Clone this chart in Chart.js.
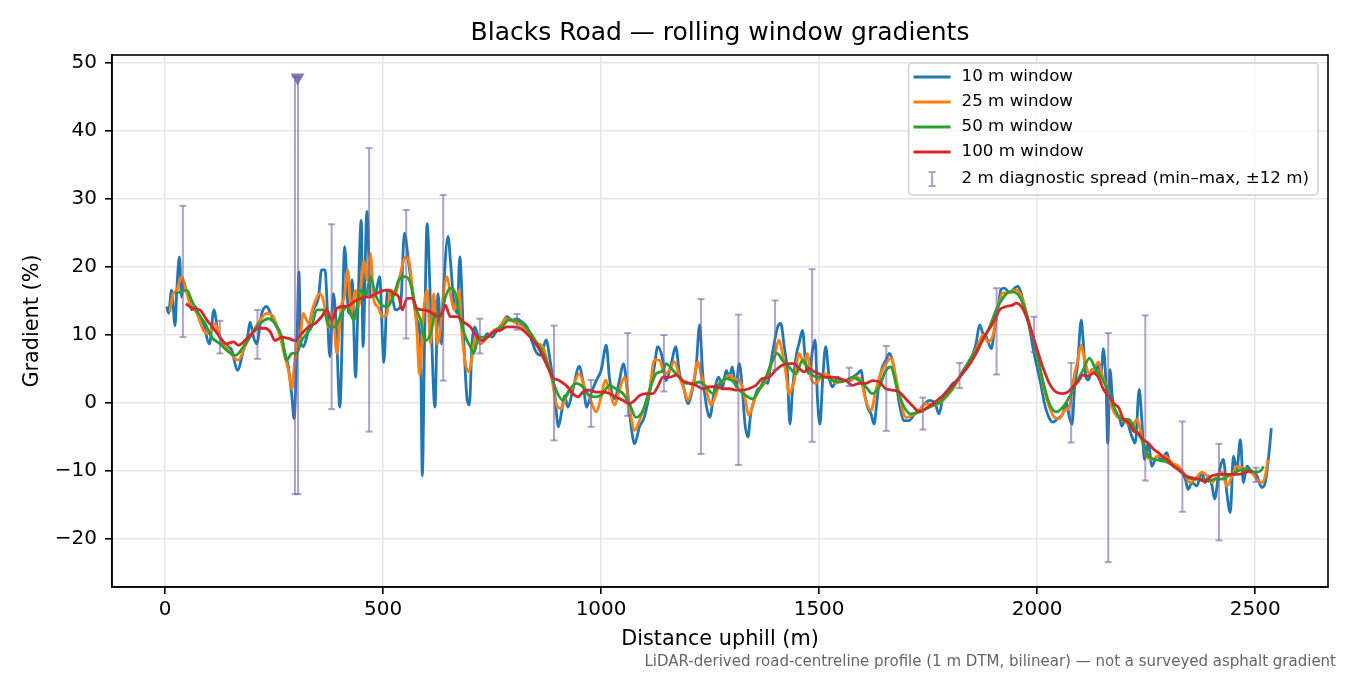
<!DOCTYPE html>
<html>
<head>
<meta charset="utf-8">
<title>Blacks Road — rolling window gradients</title>
<script src="https://cdn.jsdelivr.net/npm/chart.js@4.4.1/dist/chart.umd.min.js"></script>
<style>
  html, body { margin: 0; padding: 0; background: #fff; }
  #wrap { width: 1350px; height: 675px; }
</style>
</head>
<body>
<div id="wrap"><canvas id="chart" width="1350" height="675"></canvas></div>
<script>
const xTicks = [0, 500, 1000, 1500, 2000, 2500];
const yTicks = [-20, -10, 0, 10, 20, 30, 40, 50];

// 10 m window (distance m, gradient %)
const d10 = [4, 8, 15, 23, 27, 33, 38, 42, 48, 53, 61, 69, 76, 88, 102, 112, 122, 134, 145, 153,
  166, 180, 189, 195, 203, 210, 222, 233, 245, 256, 268, 275, 283, 291, 296, 302, 307, 311, 317, 325,
  333, 340, 352, 359, 367, 371, 378, 386, 392, 401, 412, 421, 429, 437, 442, 450, 454, 463, 471, 479,
  485, 492, 502, 510, 517, 528, 540, 549, 559, 567, 578, 586, 590, 595, 601, 609, 619, 626, 634, 639,
  649, 655, 662, 670, 676, 684, 693, 698, 704, 710, 719, 729, 739, 750, 761, 773, 784, 796, 807, 819,
  830, 843, 851, 862, 874, 883, 893, 902, 910, 916, 924, 935, 950, 958, 967, 977, 989, 1000, 1012, 1019,
  1031, 1042, 1051, 1061, 1069, 1077, 1088, 1099, 1111, 1122, 1130, 1140, 1149, 1161, 1171, 1180, 1189, 1199, 1209, 1218,
  1226, 1233, 1242, 1249, 1260, 1270, 1278, 1287, 1294, 1301, 1309, 1317, 1324, 1330, 1337, 1343, 1351, 1358, 1366, 1374,
  1382, 1389, 1397, 1405, 1412, 1420, 1427, 1433, 1439, 1447, 1454, 1462, 1469, 1477, 1485, 1491, 1496, 1502, 1508, 1515,
  1523, 1531, 1542, 1554, 1565, 1577, 1588, 1596, 1603, 1611, 1619, 1626, 1632, 1638, 1645, 1653, 1661, 1668, 1676, 1684,
  1695, 1706, 1718, 1730, 1742, 1753, 1765, 1775, 1784, 1795, 1807, 1818, 1830, 1841, 1853, 1860, 1868, 1876, 1883, 1895,
  1902, 1910, 1917, 1925, 1937, 1948, 1956, 1963, 1971, 1982, 1990, 1998, 2008, 2017, 2027, 2036, 2047, 2059, 2067, 2074,
  2080, 2086, 2093, 2101, 2106, 2112, 2118, 2125, 2133, 2141, 2146, 2152, 2158, 2162, 2167, 2173, 2179, 2188, 2194, 2202,
  2210, 2217, 2225, 2234, 2240, 2246, 2255, 2263, 2275, 2286, 2297, 2305, 2317, 2328, 2340, 2346, 2355, 2366, 2378, 2385,
  2393, 2401, 2407, 2416, 2427, 2435, 2443, 2450, 2458, 2466, 2473, 2481, 2492, 2504, 2515, 2523, 2531, 2537];
const g10 = [14.2, 13.2, 16.6, 11.4, 16.6, 21.5, 15.6, 18.1, 16.6, 16.1, 13.7, 14.2, 13.2, 11.7, 8.7, 13.7, 10.2, 8.7, 8.3, 7.8,
  4.8, 7.8, 9.7, 11.9, 9.7, 8.7, 13.2, 14.2, 12.7, 11.2, 9.2, 7.3, 5.3, 0.9, -2.3, 7.3, 19.3, 9.2, 8.3, 9.7,
  12.2, 13.7, 15.6, 19.6, 19.6, 15.6, 6.8, 16.1, 12.2, -0.6, 23.0, 13.2, 18.1, 3.8, 13.2, 26.9, 8.3, 28.2, 15.6, 15.6,
  16.6, 18.6, 6.0, 16.6, 16.6, 13.7, 14.2, 25.0, 20.5, 16.6, 12.2, 8.7, -10.7, 8.3, 26.4, 14.2, -0.6, 16.1, 8.7, 16.6,
  24.5, 20.5, 15.1, 13.2, 21.5, 10.7, 0.4, -0.3, 8.7, 11.2, 9.7, 9.2, 10.2, 9.7, 10.7, 11.7, 12.7, 12.2, 12.4, 11.9,
  11.2, 8.8, 7.5, 7.0, 9.3, 6.3, 1.9, -3.5, -1.1, 1.1, -0.6, 1.9, 5.4, 3.3, -0.6, 1.4, 3.3, 4.8, 8.5, 3.8,
  0.6, 3.3, 5.8, 1.4, -3.5, -6.0, -3.5, -2.1, 1.4, 5.3, 8.3, 6.8, 3.3, 5.8, 8.3, 4.3, 2.4, -0.1, 1.9, 5.3,
  11.5, 4.3, -0.6, -2.1, 1.9, 3.8, 2.2, 4.8, 3.8, 5.3, 2.4, 5.8, 1.9, -3.1, -5.0, -1.6, 0.4, 1.9, 2.4, 3.3,
  2.9, 5.8, 8.8, 11.2, 11.7, 8.3, 4.8, -3.1, 1.9, 6.8, 8.8, 10.7, 5.8, 4.3, 7.8, 9.3, 0.9, -3.1, 3.3, 8.3,
  3.8, 2.4, 3.8, 3.3, 3.3, 3.8, 4.3, 4.8, 1.9, -0.6, -1.6, -3.1, -0.1, 3.3, 5.3, 6.3, 7.3, 6.3, 3.3, -0.1,
  -2.6, -2.6, -1.7, -1.1, -0.1, 0.4, 0.1, -1.6, 0.9, 1.9, 2.9, 3.3, 4.8, 5.8, 7.3, 8.8, 11.5, 10.2, 9.8, 8.0,
  10.7, 13.7, 16.7, 16.9, 16.2, 16.9, 17.2, 16.2, 14.2, 11.2, 8.3, 5.8, 2.9, -0.1, -2.1, -2.8, -2.3, -1.6, 0.1, -2.1,
  -3.1, 2.4, 5.8, 12.2, 8.8, 3.8, 3.4, 4.9, 4.4, 5.9, 3.9, 8.0, 2.4, -5.9, 4.9, 0.5, -1.5, -2.0, -3.4, -2.4,
  -3.4, -4.9, -5.9, 2.0, -2.4, -8.3, -5.9, -9.3, -7.8, -8.3, -7.3, -8.8, -9.3, -9.8, -11.2, -12.7, -11.7, -12.2, -10.2, -11.7,
  -10.7, -12.2, -14.1, -10.7, -8.3, -13.2, -16.1, -7.8, -9.8, -5.4, -11.7, -9.3, -10.2, -10.7, -12.4, -11.7, -7.8, -3.7];

// 25 m window
const d25 = [11, 19, 27, 38, 46, 57, 73, 88, 99, 115, 126, 141, 157, 168, 183, 199, 218, 233, 248, 264,
  275, 283, 291, 296, 302, 310, 317, 329, 340, 355, 363, 375, 385, 394, 404, 411, 419, 427, 437, 444,
  456, 463, 471, 479, 488, 498, 509, 518, 528, 540, 551, 559, 567, 577, 584, 592, 601, 609, 616, 625,
  632, 639, 647, 654, 664, 674, 681, 689, 697, 704, 712, 723, 739, 754, 769, 781, 792, 807, 823, 836,
  851, 866, 878, 889, 897, 908, 920, 935, 950, 962, 973, 989, 1000, 1010, 1019, 1031, 1042, 1054, 1065, 1077,
  1088, 1099, 1111, 1122, 1134, 1145, 1157, 1168, 1180, 1191, 1199, 1210, 1222, 1229, 1241, 1252, 1264, 1273, 1282, 1294,
  1305, 1317, 1328, 1339, 1351, 1362, 1374, 1385, 1397, 1408, 1416, 1424, 1431, 1443, 1454, 1466, 1473, 1481, 1492, 1504,
  1515, 1527, 1538, 1550, 1561, 1573, 1584, 1596, 1607, 1619, 1630, 1641, 1653, 1665, 1676, 1688, 1699, 1710, 1726, 1745,
  1765, 1784, 1807, 1830, 1849, 1864, 1876, 1887, 1898, 1910, 1921, 1937, 1952, 1967, 1982, 1998, 2013, 2028, 2040, 2051,
  2063, 2074, 2083, 2093, 2101, 2109, 2120, 2130, 2141, 2150, 2160, 2171, 2183, 2194, 2206, 2217, 2229, 2240, 2252, 2263,
  2278, 2294, 2309, 2324, 2340, 2351, 2362, 2378, 2389, 2401, 2412, 2424, 2435, 2447, 2458, 2469, 2481, 2492, 2504, 2515,
  2523, 2529];
const g25 = [13.4, 16.1, 16.6, 18.6, 17.1, 14.6, 13.2, 10.7, 10.2, 11.7, 9.7, 8.3, 6.8, 6.3, 8.3, 10.2, 12.2, 13.2, 12.7, 9.7,
  6.8, 4.8, 2.1, 5.3, 8.3, 9.7, 13.2, 11.7, 14.2, 16.1, 15.1, 11.2, 13.2, 7.3, 14.2, 15.6, 19.6, 13.2, 16.6, 14.2,
  21.0, 18.1, 22.0, 15.1, 14.2, 12.7, 13.2, 16.6, 16.1, 19.1, 21.5, 21.0, 17.1, 11.2, 4.1, 12.7, 16.6, 8.7, 16.1, 8.7,
  11.2, 16.6, 18.6, 16.1, 13.7, 16.6, 10.2, 5.8, 4.6, 6.8, 9.7, 8.7, 9.7, 10.7, 11.2, 12.4, 12.2, 11.7, 11.2, 10.2,
  8.8, 8.3, 5.8, 2.9, -0.1, -0.8, 0.9, 2.4, 4.3, 2.4, 0.9, -1.3, 0.9, 3.4, 1.9, -0.3, 1.9, 3.8, -0.6, -4.0,
  -2.6, -0.6, 1.9, 6.3, 6.3, 4.3, 4.8, 6.1, 3.8, 1.9, 0.4, 2.4, 6.1, 4.3, 1.9, -0.3, 1.4, 3.1, 3.3, 4.1,
  3.6, 3.3, 1.4, -1.8, 0.4, 1.9, 2.9, 4.8, 6.8, 9.3, 7.3, 4.3, 1.4, 3.3, 7.3, 5.8, 7.3, 3.8, 2.9, 3.8,
  4.3, 3.8, 2.9, 3.3, 3.3, 3.3, 3.8, 3.3, 0.4, -1.1, 1.9, 4.3, 5.8, 6.6, 3.8, -0.1, -2.1, -1.9, -1.3, -0.1,
  -0.3, 0.4, 2.1, 4.6, 6.6, 8.5, 10.0, 9.0, 9.8, 13.7, 16.2, 16.2, 16.7, 15.2, 11.5, 7.9, 2.9, -0.6, -2.1, -2.3,
  -1.1, -0.6, 3.3, 6.3, 8.5, 6.3, 4.3, 5.1, 6.0, 3.9, 2.4, -0.5, -2.0, -2.4, -2.9, -3.4, -2.4, -4.9, -7.8, -8.3,
  -7.8, -7.8, -8.8, -9.3, -10.7, -11.7, -11.2, -10.2, -10.7, -11.7, -10.7, -10.2, -12.2, -10.7, -9.3, -9.5, -9.8, -10.2, -11.2, -11.7,
  -10.7, -8.3];

// 50 m window
const d50 = [23, 38, 50, 61, 76, 92, 107, 126, 141, 161, 180, 199, 218, 237, 252, 268, 279, 291, 302, 313,
  325, 336, 348, 363, 378, 390, 405, 417, 433, 448, 460, 471, 482, 494, 509, 526, 536, 551, 563, 574,
  586, 597, 609, 620, 632, 643, 654, 666, 677, 689, 700, 708, 719, 739, 758, 773, 788, 804, 819, 834,
  849, 866, 882, 897, 912, 927, 943, 958, 973, 989, 1004, 1019, 1034, 1050, 1065, 1080, 1096, 1111, 1126, 1142,
  1149, 1165, 1180, 1195, 1210, 1226, 1241, 1256, 1271, 1286, 1301, 1317, 1332, 1347, 1362, 1378, 1393, 1404, 1416, 1431,
  1447, 1462, 1473, 1485, 1500, 1515, 1531, 1546, 1561, 1577, 1592, 1607, 1622, 1638, 1653, 1664, 1680, 1695, 1710, 1730,
  1753, 1776, 1799, 1822, 1845, 1868, 1891, 1906, 1921, 1937, 1952, 1967, 1982, 1998, 2013, 2028, 2044, 2059, 2074, 2089,
  2105, 2120, 2133, 2149, 2164, 2179, 2194, 2210, 2225, 2240, 2255, 2271, 2286, 2301, 2317, 2332, 2347, 2362, 2378, 2393,
  2408, 2424, 2439, 2454, 2469, 2485, 2500, 2515, 2519];
const g50 = [16.1, 16.4, 16.6, 15.1, 13.2, 11.7, 9.7, 8.7, 7.8, 7.0, 8.3, 10.2, 11.7, 12.4, 11.7, 9.7, 6.3, 7.3, 7.3, 9.2,
  10.2, 11.2, 13.7, 13.7, 11.2, 11.2, 13.2, 14.2, 12.2, 16.6, 15.6, 18.6, 16.1, 14.6, 14.2, 16.1, 18.1, 18.6, 17.6, 14.2,
  12.2, 9.2, 10.2, 13.2, 12.7, 15.6, 16.9, 16.1, 12.2, 9.7, 8.3, 7.3, 9.7, 9.7, 10.7, 11.2, 12.2, 12.2, 11.7, 10.7,
  9.2, 7.5, 4.8, 1.9, 0.4, 1.9, 2.9, 2.4, 1.1, 0.9, 1.4, 2.6, 2.1, 1.4, -0.1, -2.1, -1.1, 1.9, 4.3, 4.8,
  5.8, 4.8, 3.8, 2.9, 2.9, 3.1, 2.4, 1.4, 2.8, 3.6, 3.3, 1.9, 1.1, 0.6, 1.9, 3.8, 6.3, 7.3, 6.3, 5.3,
  4.3, 6.3, 5.3, 4.1, 3.8, 3.8, 3.3, 3.1, 3.3, 3.8, 3.3, 2.4, 1.4, 2.4, 4.8, 5.3, 1.9, -0.6, -1.6, -1.3,
  -0.6, 0.1, 1.6, 3.8, 6.3, 8.5, 11.2, 13.7, 15.4, 16.4, 16.2, 14.7, 11.7, 7.8, 3.3, -0.1, -1.3, -0.6, 0.9, 2.9,
  4.8, 6.6, 5.1, 3.6, 1.5, -1.0, -2.4, -2.4, -3.9, -5.4, -7.8, -8.3, -8.5, -8.8, -9.5, -10.2, -11.0, -11.2, -11.2, -11.5,
  -11.2, -11.2, -10.7, -10.2, -9.8, -9.8, -10.2, -9.8, -9.3];

// 100 m window
const d100 = [48, 65, 80, 96, 111, 126, 141, 157, 168, 183, 199, 214, 229, 241, 252, 268, 283, 298, 313, 329,
  344, 359, 371, 382, 394, 409, 417, 433, 448, 463, 479, 494, 509, 526, 536, 544, 555, 567, 578, 593,
  609, 624, 635, 643, 654, 670, 685, 700, 716, 727, 739, 754, 769, 784, 800, 815, 830, 847, 859, 874,
  889, 904, 920, 935, 947, 958, 973, 989, 1004, 1019, 1034, 1050, 1065, 1077, 1088, 1103, 1119, 1130, 1142, 1157,
  1172, 1187, 1203, 1218, 1233, 1249, 1264, 1279, 1294, 1309, 1324, 1339, 1355, 1370, 1385, 1400, 1416, 1431, 1443, 1454,
  1466, 1477, 1489, 1500, 1515, 1531, 1546, 1561, 1577, 1592, 1607, 1622, 1638, 1653, 1668, 1684, 1699, 1714, 1731, 1749,
  1765, 1784, 1803, 1822, 1841, 1860, 1879, 1898, 1914, 1929, 1944, 1952, 1967, 1982, 1998, 2013, 2028, 2044, 2059, 2070,
  2082, 2093, 2105, 2118, 2129, 2141, 2152, 2164, 2175, 2187, 2198, 2210, 2221, 2232, 2244, 2255, 2267, 2278, 2290, 2301,
  2313, 2324, 2340, 2355, 2370, 2385, 2401, 2416, 2431, 2447, 2462, 2477, 2489, 2491];
const g100 = [14.6, 13.9, 13.7, 12.2, 11.0, 9.7, 8.7, 9.0, 8.5, 9.2, 10.2, 11.0, 11.0, 10.5, 9.2, 9.7, 9.5, 9.2, 10.2, 11.2,
  11.7, 12.7, 13.7, 12.2, 13.9, 14.2, 14.2, 14.9, 15.4, 15.6, 15.9, 16.4, 16.6, 16.1, 15.6, 13.7, 15.4, 15.4, 13.9, 13.7,
  13.4, 12.7, 13.2, 14.4, 12.7, 12.7, 11.9, 11.2, 9.7, 9.2, 9.7, 10.5, 10.7, 11.2, 11.2, 11.0, 10.2, 9.0, 7.8, 5.8,
  3.8, 3.3, 2.6, 1.4, 0.9, 1.6, 1.9, 1.6, 1.6, 1.4, 0.9, 0.4, -0.1, 0.4, 1.1, 1.4, 1.4, 2.4, 3.8, 3.8,
  4.1, 3.3, 2.9, 2.6, 2.1, 2.4, 2.4, 2.1, 2.1, 1.9, 1.9, 2.1, 2.6, 3.6, 3.8, 4.8, 5.6, 5.8, 5.8, 5.1,
  4.6, 5.1, 4.6, 4.3, 3.8, 3.8, 3.6, 3.3, 2.6, 2.9, 2.9, 3.3, 3.1, 2.1, 1.9, 1.6, 0.6, -0.4, -1.3, -0.6,
  0.1, 1.1, 2.4, 3.8, 5.3, 7.3, 9.8, 11.7, 13.7, 14.2, 14.4, 14.7, 13.9, 11.5, 8.3, 5.3, 2.9, 1.6, 1.4, 1.6,
  2.4, 3.1, 4.1, 4.0, 4.4, 3.7, 2.0, 1.0, 0.0, -0.7, -2.4, -2.9, -4.1, -4.4, -5.4, -5.9, -6.8, -7.3, -8.0, -8.5,
  -9.3, -9.8, -10.7, -11.0, -11.2, -11.5, -10.7, -10.5, -10.5, -10.5, -10.5, -10.2, -10.0, -10.3];

// 2 m diagnostic spread (min–max within ±12 m), clipped at the plot top where it runs off scale
const spreadAt = [41, 126, 212, 298, 305, 382, 468, 553, 638, 722, 807, 892, 977, 1061, 1144, 1229,
  1315, 1399, 1484, 1569, 1654, 1738, 1822, 1907, 1993, 2078, 2163, 2248, 2333, 2417, 2502];
const spreadLo = [9.7, 7.3, 6.5, -13.4, -13.4, -0.9, -4.2, 9.5, 3.3, 7.3, 10.8, -5.5, -3.5, -1.9, 1.7, -7.5,
  -9.1, 4.9, -5.7, 2.5, -4.1, -3.9, 2.2, 4.2, 7.5, -5.8, -23.4, -11.4, -16.0, -20.2, -11.6];
const spreadHi = [29.0, 12.1, 13.7, 48.0, 48.0, 26.3, 37.5, 28.4, 30.6, 12.4, 13.1, 11.4, 3.4, 10.3, 10.0, 15.3,
  13.0, 15.1, 19.7, 5.2, 8.4, 0.8, 5.9, 16.9, 12.7, 5.9, 10.3, 12.9, -2.7, -6.0, -9.5];
const offScaleAt = [304];
const offScaleY = [47.9];

const C10 = '#1f77b4', C25 = '#ff7f0e', C50 = '#2ca02c', C100 = '#d62728';
const SPREAD = 'rgba(117, 96, 168, 0.58)';
const FOOTER = 'LiDAR-derived road-centreline profile (1 m DTM, bilinear) \u2014 not a surveyed asphalt gradient';

const pts = (xs, ys) => xs.map((x, i) => ({ x: x, y: ys[i] }));

// each error bar becomes lo -> hi followed by a gap
const spreadPts = [];
spreadAt.forEach((x, i) => {
  spreadPts.push({ x: x, y: spreadLo[i] }, { x: x, y: spreadHi[i] }, { x: x, y: null });
});

function lineSet(label, xs, ys, color, order) {
  return {
    label: label,
    data: pts(xs, ys),
    borderColor: color,
    backgroundColor: color,
    borderWidth: 2.8,
    pointRadius: 0,
    cubicInterpolationMode: 'monotone',
    order: order,
  };
}

// matplotlib-style frame, boxed legend and footnote
const framePlugin = {
  id: 'framePlugin',
  afterLayout(chart) {
    // centre the title over the plotting area
    const t = chart.titleBlock;
    t.left = chart.chartArea.left;
    t.right = chart.chartArea.right;
  },
  afterDatasetsDraw(chart) {
    const { ctx, chartArea: a } = chart;
    ctx.save();
    ctx.strokeStyle = '#000';
    ctx.lineWidth = 1.6;
    ctx.strokeRect(a.left, a.top, a.right - a.left, a.bottom - a.top);
    ctx.restore();
  },
  afterDraw(chart) {
    const { ctx, chartArea: a } = chart;
    const rows = chart.data.datasets.filter((ds) => ds.label);
    ctx.save();
    ctx.font = '16.7px "DejaVu Sans"';
    const maxW = Math.max(...rows.map((r) => ctx.measureText(r.label).width));
    const right = a.right - 10;
    const left = right - (53 + maxW + 9);
    const top = a.top + 8;
    const bottom = a.top + 140;

    ctx.beginPath();
    ctx.roundRect(left, top, right - left, bottom - top, 4);
    ctx.fillStyle = 'rgba(255,255,255,0.8)';
    ctx.fill();
    ctx.strokeStyle = '#d0d0d0';
    ctx.lineWidth = 1.5;
    ctx.stroke();

    rows.forEach((r, i) => {
      const y = top + 14 + i * 25 + (r.isSpread ? 2 : 0);
      if (r.isSpread) {
        const cx = left + 23.5;
        ctx.strokeStyle = SPREAD;
        ctx.lineWidth = 2;
        ctx.beginPath();
        ctx.moveTo(cx, y - 7); ctx.lineTo(cx, y + 7);
        ctx.moveTo(cx - 3.5, y - 7); ctx.lineTo(cx + 3.5, y - 7);
        ctx.moveTo(cx - 3.5, y + 7); ctx.lineTo(cx + 3.5, y + 7);
        ctx.stroke();
      } else {
        ctx.strokeStyle = r.borderColor;
        ctx.lineWidth = r.borderWidth;
        ctx.beginPath();
        ctx.moveTo(left + 5, y);
        ctx.lineTo(left + 42, y);
        ctx.stroke();
      }
      ctx.fillStyle = '#000';
      ctx.textAlign = 'left';
      ctx.textBaseline = 'middle';
      ctx.fillText(r.label, left + 53, y);
    });

    ctx.font = '15px "DejaVu Sans"';
    ctx.fillStyle = '#666';
    ctx.textAlign = 'right';
    ctx.textBaseline = 'alphabetic';
    ctx.fillText(FOOTER, chart.width - 14, chart.height - 9);
    ctx.restore();
  },
};

Chart.defaults.font.family = '"DejaVu Sans", sans-serif';
Chart.defaults.color = '#000';

const minusFmt = (v) => (v < 0 ? '\u2212' + Math.abs(v) : String(v));

new Chart(document.getElementById('chart'), {
  type: 'line',
  data: {
    datasets: [
      lineSet('10 m window', d10, g10, C10, 4),
      lineSet('25 m window', d25, g25, C25, 3),
      lineSet('50 m window', d50, g50, C50, 2),
      lineSet('100 m window', d100, g100, C100, 1),
      {
        label: '2 m diagnostic spread (min\u2013max, \u00b112 m)',
        isSpread: true,
        data: spreadPts,
        borderColor: SPREAD,
        borderWidth: 2,
        spanGaps: false,
        pointStyle: 'line',
        pointRadius: 3.5,
        pointBorderWidth: 2,
        pointBorderColor: SPREAD,
        order: 0,
      },
      {
        data: pts(offScaleAt, offScaleY),
        showLine: false,
        pointStyle: 'triangle',
        pointRotation: 180,
        pointRadius: 8,
        pointBorderWidth: 0,
        pointBackgroundColor: 'rgb(140, 122, 182)',
        order: 0,
      },
    ],
  },
  options: {
    responsive: false,
    animation: false,
    events: [],
    layout: { padding: { left: 0, right: 22, top: 0, bottom: 22 } },
    plugins: {
      legend: { display: false },
      tooltip: { enabled: false },
      title: {
        display: true,
        text: 'Blacks Road \u2014 rolling window gradients',
        font: { size: 25, weight: 'normal' },
        color: '#000',
        padding: { top: 18.4, bottom: 6.6 },
      },
    },
    scales: {
      x: {
        type: 'linear',
        min: -121.6,
        max: 2667,
        afterFit: (scale) => { scale.height = 66; },
        afterBuildTicks: (scale) => { scale.ticks = xTicks.map((v) => ({ value: v })); },
        ticks: { font: { size: 20 }, padding: 4, maxRotation: 0, callback: minusFmt },
        grid: { color: '#e6e6e6', lineWidth: 1.6, tickLength: 7, tickColor: '#000', tickWidth: 1.6 },
        border: { color: '#000', width: 1.6 },
        title: { display: true, text: 'Distance uphill (m)', font: { size: 20.8 }, padding: { top: 0, bottom: 1 } },
      },
      y: {
        type: 'linear',
        min: -27.06,
        max: 51.2,
        afterFit: (scale) => { scale.width = 112; },
        afterBuildTicks: (scale) => { scale.ticks = yTicks.map((v) => ({ value: v })); },
        ticks: { font: { size: 20 }, padding: 8, callback: minusFmt },
        grid: { color: '#e6e6e6', lineWidth: 1.6, tickLength: 7, tickColor: '#000', tickWidth: 1.6 },
        border: { color: '#000', width: 1.6 },
        title: { display: true, text: 'Gradient (%)', font: { size: 20.8 }, padding: { top: 20.3, bottom: 0 } },
      },
    },
  },
  plugins: [framePlugin],
});
</script>
</body>
</html>
